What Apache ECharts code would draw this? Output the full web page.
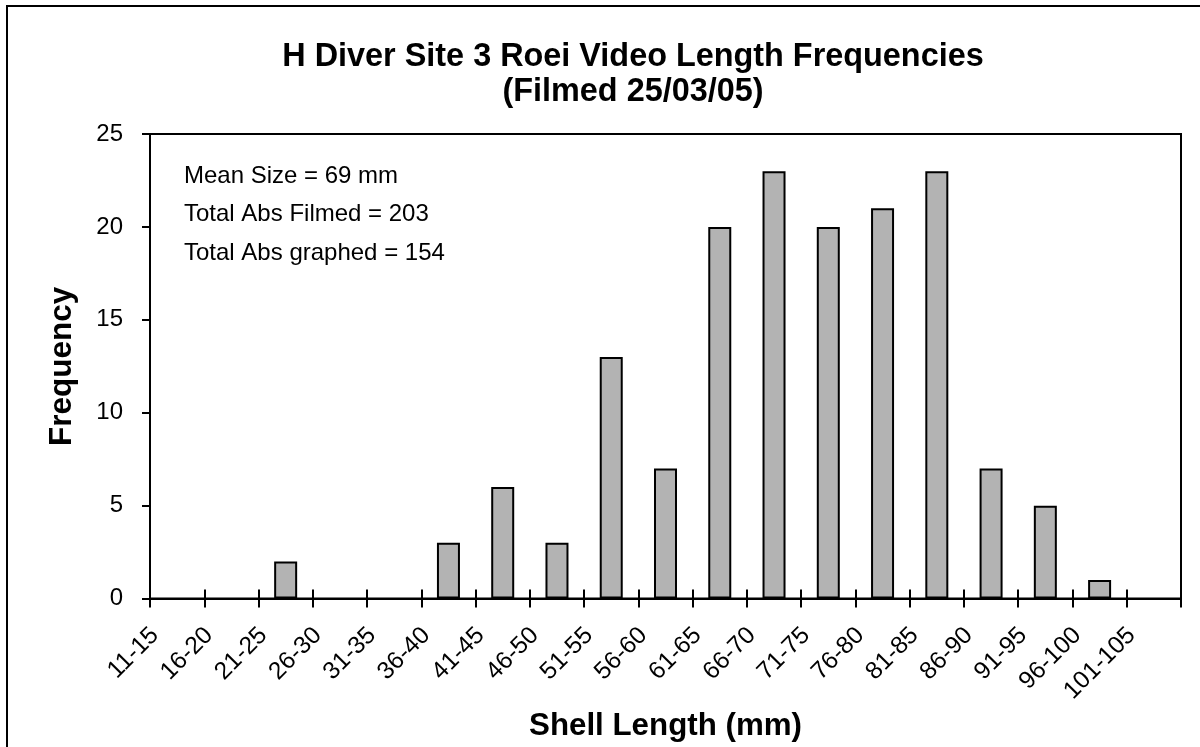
<!DOCTYPE html>
<html>
<head>
<meta charset="utf-8">
<script src="https://cdn.jsdelivr.net/npm/echarts@6/dist/echarts.min.js"></script>
<style>
html,body{margin:0;padding:0;background:#fff;}
#chart{width:1200px;height:747px;}
</style>
</head>
<body>
<div id="chart"></div>
<script>
// Tick labels (one per category boundary, as in the original chart)
const categories = ['11-15','16-20','21-25','26-30','31-35','36-40','41-45','46-50','51-55','56-60',
  '61-65','66-70','71-75','76-80','81-85','86-90','91-95','96-100','101-105'];
// Frequencies, one per interval between consecutive ticks
const frequencies = [0,0,2,0,0,3,6,3,13,7,20,23,20,21,23,7,5,1,0];
const yTicks = [0,5,10,15,20,25];
const notes = ['Mean Size = 69 mm','Total Abs Filmed = 203','Total Abs graphed = 154'];

const FONT = '"Liberation Sans", Arial, sans-serif';
const chart = echarts.init(document.getElementById('chart'), null, {renderer:'canvas'});

const barData = frequencies.map((v,i)=> v === 0
  ? {value:[i+0.5, v], itemStyle:{borderWidth:0}}
  : {value:[i+0.5, v]});

chart.setOption({
  backgroundColor:'#fff',
  animation:false,
  title:{
    text:'H Diver Site 3 Roei Video Length Frequencies\n(Filmed 25/03/05)',
    left:633, top:40, textAlign:'center', padding:0,
    textStyle:{fontFamily:FONT,fontSize:32.4,fontWeight:'bold',color:'#000',lineHeight:35}
  },
  grid:{left:150,top:134,right:19,bottom:147,show:true,borderColor:'#000',borderWidth:2,backgroundColor:'#fff'},
  xAxis:[{
    type:'value', min:0, max:categories.length, interval:1, position:'bottom',
    name:'Shell Length (mm)', nameLocation:'middle', nameGap:105,
    nameTextStyle:{fontFamily:FONT,fontSize:31.3,fontWeight:'bold',color:'#000'},
    axisLine:{show:true,lineStyle:{color:'#000',width:2}},
    axisTick:{show:true,inside:false,length:9,lineStyle:{color:'#000',width:2}},
    splitLine:{show:false},
    axisLabel:{rotate:45,margin:28,verticalAlign:'top',lineHeight:14,fontFamily:FONT,fontSize:24.5,color:'#000',
      showMinLabel:true,showMaxLabel:true,
      formatter:(v)=>categories[Math.round(v)]||''}
  },{
    type:'value', min:0, max:categories.length, interval:1, position:'bottom',
    axisLine:{show:false},
    axisTick:{show:true,inside:true,length:9,lineStyle:{color:'#000',width:2}},
    axisLabel:{show:false}, splitLine:{show:false}
  }],
  yAxis:{
    type:'value', min:yTicks[0], max:yTicks[yTicks.length-1], interval:5,
    name:'Frequency', nameLocation:'middle', nameGap:72, nameRotate:90,
    nameTextStyle:{fontFamily:FONT,fontSize:31.5,fontWeight:'bold',color:'#000'},
    axisLine:{show:true,lineStyle:{color:'#000',width:2}},
    axisTick:{show:true,inside:false,length:8,lineStyle:{color:'#000',width:2}},
    splitLine:{show:false},
    axisLabel:{margin:27,fontFamily:FONT,fontSize:24,color:'#000'}
  },
  graphic:[
    {type:'rect',z:-1,shape:{x:7,y:6,width:1200,height:760},style:{fill:'none',stroke:'#000',lineWidth:2}},
    {type:'text',left:184,top:157,z:10,style:{text:notes.join('\n'),fontFamily:FONT,fontSize:24,lineHeight:38.5,fill:'#000'}}
  ],
  series:[{
    type:'bar', xAxisIndex:0, yAxisIndex:0,
    data:barData, barWidth:23,
    itemStyle:{color:'#b3b3b3',borderColor:'#000',borderWidth:2}
  }]
});
</script>
</body>
</html>
